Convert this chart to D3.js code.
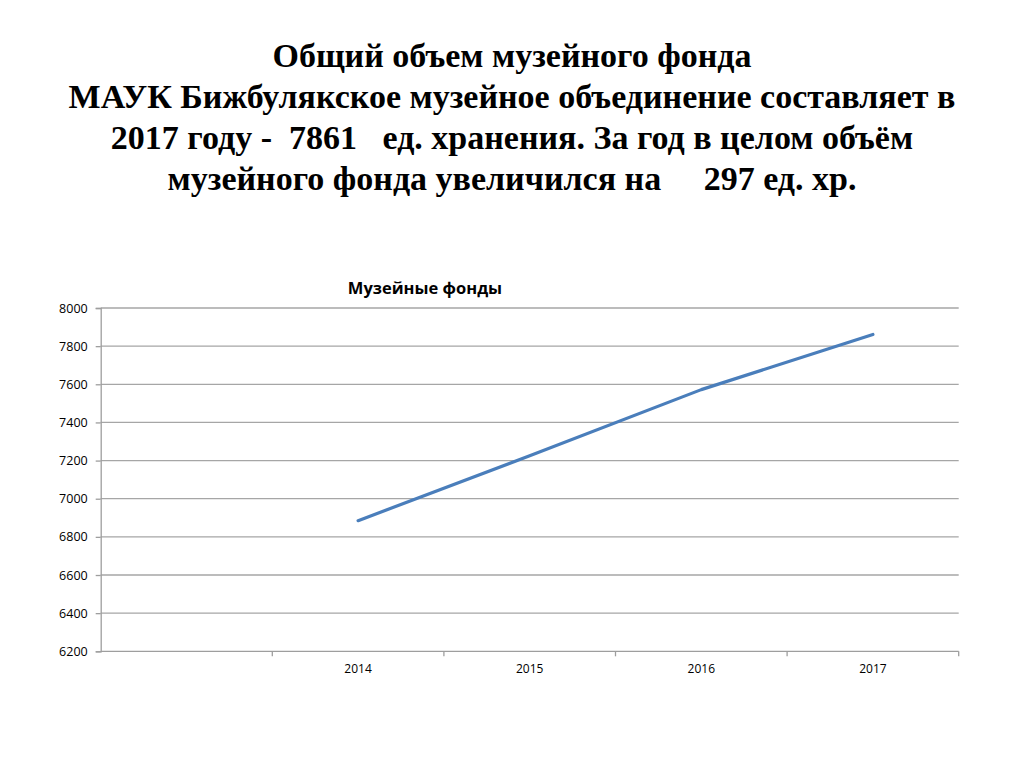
<!DOCTYPE html>
<html>
<head>
<meta charset="utf-8">
<script src="https://cdn.jsdelivr.net/npm/d3@7"></script>
<style>
  html, body { margin: 0; padding: 0; background: #ffffff; }
  svg { display: block; }
</style>
</head>
<body>
<svg id="chart" width="1024" height="767"></svg>
<script>
// ---- data ----
const titleLines = [
  "Общий объем музейного фонда",
  "МАУК Бижбулякское музейное объединение составляет в",
  "2017 году -  7861   ед. хранения. За год в целом объём",
  "музейного фонда увеличился на     297 ед. хр."
];
const chartTitle = "Музейные фонды";
const categories = ["", "2014", "2015", "2016", "2017"];
const values = [null, 6885, 7225, 7572, 7861];
const yTicks = [6200, 6400, 6600, 6800, 7000, 7200, 7400, 7600, 7800, 8000];

// ---- layout ----
const svg = d3.select("#chart");
const plot = { left: 100.7, right: 958.7, top: 308, bottom: 651.3 };

const x = d3.scaleBand().domain(categories).range([plot.left, plot.right]).padding(0);
const y = d3.scaleLinear().domain([6200, 8000]).range([plot.bottom, plot.top]);

// Main heading
const heading = svg.append("text")
  .attr("x", 512)
  .attr("text-anchor", "middle")
  .style("font-family", "'Liberation Serif', 'Times New Roman', serif")
  .style("font-weight", "bold")
  .style("font-size", "34px")
  .attr("fill", "#000");
titleLines.forEach((t, i) => {
  heading.append("tspan")
    .attr("x", 512)
    .attr("y", 67 + i * 41)
    .attr("xml:space", "preserve")
    .style("white-space", "pre")
    .text(t);
});

// Chart title
svg.append("text")
  .attr("x", 425)
  .attr("y", 294)
  .attr("text-anchor", "middle")
  .style("font-family", "'Open Sans', 'Liberation Sans', sans-serif")
  .style("font-weight", "bold")
  .style("font-size", "16.5px")
  .attr("fill", "#000")
  .text(chartTitle);

// Gridlines
svg.append("g")
  .selectAll("line")
  .data(yTicks.slice(1))
  .join("line")
  .attr("x1", plot.left)
  .attr("x2", plot.right)
  .attr("y1", d => y(d))
  .attr("y2", d => y(d))
  .attr("stroke", "#a6a6a6")
  .attr("stroke-width", 1.3);

// Y axis
const yAxis = d3.axisLeft(y).tickValues(yTicks).tickSize(5).tickPadding(8).tickFormat(d3.format("d"));
const gy = svg.append("g").attr("transform", `translate(${plot.left},0)`).call(yAxis);
gy.select(".domain").attr("stroke", "#9e9e9e").attr("stroke-width", 1.3);
gy.selectAll(".tick line").attr("stroke", "#9e9e9e").attr("stroke-width", 1.3);
gy.selectAll(".tick text")
  .style("font-family", "'Open Sans', 'Liberation Sans', sans-serif")
  .style("font-size", "12.5px")
  .attr("fill", "#000");

// X axis (ticks at category boundaries)
const gx = svg.append("g").attr("transform", `translate(0,${plot.bottom})`);
gx.append("line")
  .attr("x1", plot.left).attr("x2", plot.right)
  .attr("stroke", "#9e9e9e").attr("stroke-width", 1.3);
const boundaries = categories.map(c => x(c)).concat([x(categories[categories.length - 1]) + x.bandwidth()]);
gx.selectAll("line.tk")
  .data(boundaries.slice(1))
  .join("line")
  .attr("class", "tk")
  .attr("x1", d => d).attr("x2", d => d)
  .attr("y1", 0).attr("y2", 5)
  .attr("stroke", "#9e9e9e").attr("stroke-width", 1.3);
gx.selectAll("text")
  .data(categories)
  .join("text")
  .attr("x", d => x(d) + x.bandwidth() / 2)
  .attr("y", 21.5)
  .attr("text-anchor", "middle")
  .style("font-family", "'Open Sans', 'Liberation Sans', sans-serif")
  .style("font-size", "12px")
  .attr("fill", "#000")
  .text(d => d);

// Line
const pts = categories.map((c, i) => ({ c, v: values[i] })).filter(d => d.v != null);
const line = d3.line()
  .x(d => x(d.c) + x.bandwidth() / 2)
  .y(d => y(d.v));
svg.append("path")
  .datum(pts)
  .attr("d", line)
  .attr("fill", "none")
  .attr("stroke", "#4a7ebb")
  .attr("stroke-width", 3.2)
  .attr("stroke-linecap", "round")
  .attr("stroke-linejoin", "round");
</script>
</body>
</html>
